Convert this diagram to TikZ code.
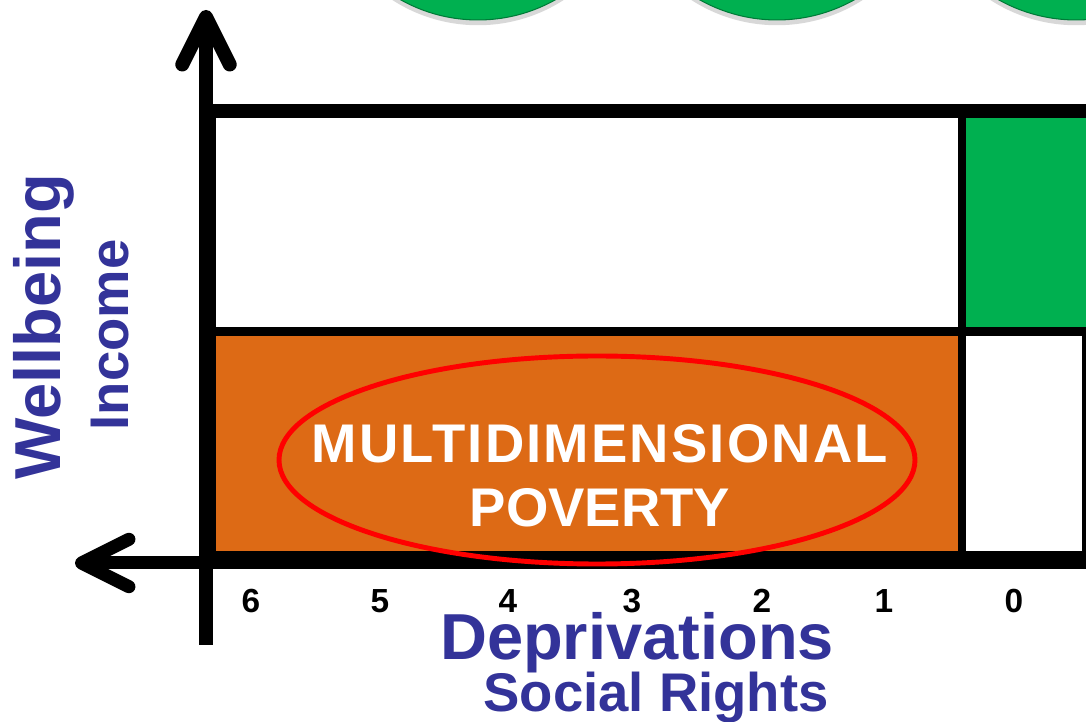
\documentclass[tikz,border=0pt]{standalone}
\usepackage{fontspec}
\setmainfont{Liberation Sans}
\usetikzlibrary{arrows.meta,shadows}
\definecolor{axisblue}{RGB}{51,51,153}
\definecolor{povorange}{RGB}{221,106,21}
\definecolor{okgreen}{RGB}{0,176,80}

\begin{document}
\begin{tikzpicture}[x=0.02cm, y=-0.02cm,
	axis/.style={line width=#1, -{Straight Barb[length=27pt, width=27pt, round]}},
	gridline/.style={line width=#1},
	toplabel/.style={anchor=base, text=axisblue, font=\bfseries\fontsize{37}{40}\selectfont},
	sublabel/.style={anchor=base, text=axisblue, font=\bfseries\fontsize{31}{34}\selectfont},
	tick/.style={anchor=base, font=\bfseries\fontsize{19}{22}\selectfont},
	inside/.style={anchor=base, text=white, font=\bfseries\fontsize{31}{34}\selectfont},
	topdot/.style={circle, fill=okgreen, draw=okgreen!70!black, line width=0.6pt,
		minimum size=6.32cm, drop shadow={opacity=0.3, shadow xshift=0pt, shadow yshift=-3pt}}]
	\useasboundingbox (0,0) rectangle (1086,722);
	\fill[white] (0,0) rectangle (1086,722);
	% green dots above the chart
	\foreach \cx [count=\i] in {478,777,1076}
		\node[topdot] (dot\i) at (\cx,-138) {};
	% cells
	\fill[povorange] (216,336) rectangle (958,551);
	\fill[okgreen] (966,118) rectangle (1086,327);
	\draw[gridline=8pt] (199,111) -- (1086,111);
	\draw[gridline=5pt] (205,331.5) -- (1086,331.5);
	\draw[gridline=4.6pt] (962,111) -- (962,563);
	\draw[gridline=2.5pt] (1084,331) -- (1084,563);
	\draw[gridline=10.8pt] (205,560) -- (1086,560);
	\draw[gridline=10pt] (207.5,104) -- (207.5,569);
	% axes
	\coordinate (yfoot) at (206,645);
	\coordinate (ytop) at (206,10);
	\coordinate (xright) at (1086,563);
	\coordinate (xleft) at (75,563);
	\draw[axis=8pt] (yfoot) -- (ytop);
	\draw[axis=7.4pt] (xright) -- (xleft);
	% ellipse and its text
	\draw[red, line width=2.8pt] (597,460) ellipse [x radius=318, y radius=104];
	\node[inside] (multi) at (600,463) {\addfontfeature{LetterSpace=4}MULTIDIMENSIONAL};
	\node[inside] (pov) at (600,527) {POVERTY};
	% ticks
	\foreach \n/\x in {6/251,5/380,4/508,3/632,2/762,1/884,0/1014}
		\node[tick] (t\n) at (\x,613) {\n};
	% axis labels
	\node[toplabel] (depr) at (637,660) {Deprivations};
	\node[sublabel] (rights) at (656,712) {Social Rights};
	\node[toplabel, rotate=90] (well) at (60,327) {Wellbeing};
	\node[sublabel, rotate=90] (inc) at (128,335) {Income};
\end{tikzpicture}
\end{document}
